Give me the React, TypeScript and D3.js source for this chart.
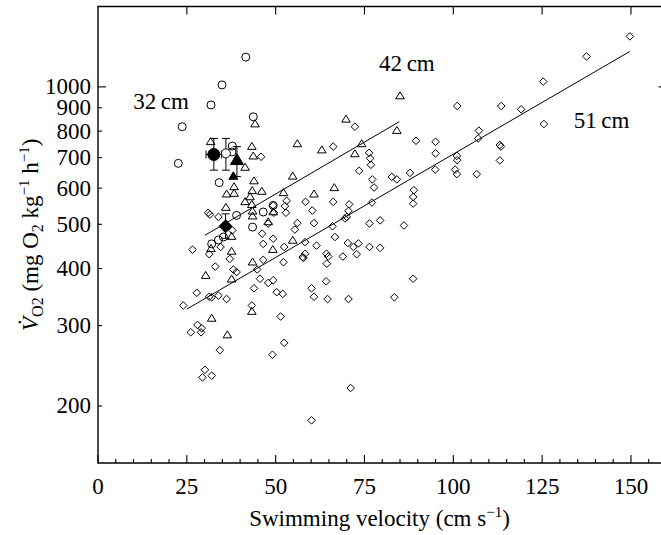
import React from 'react';
import * as d3 from 'd3';

// ---- data (velocity cm s-1, VO2 mg O2 kg-1 h-1) ----
const xTickValues = [0, 25, 50, 75, 100, 125, 150];
const yTickValues = [200, 300, 400, 500, 600, 700, 800, 900, 1000];
const groupLabels = ['32\u2009cm', '42\u2009cm', '51\u2009cm'];

const circles32: [number, number][] = [
  [41.6, 1162], [34.9, 1010], [31.8, 913], [23.7, 818], [22.6, 680], [34.1, 617],
  [43.7, 860], [37.8, 742], [37.7, 720], [39.0, 523], [32.0, 453], [33.9, 462],
  [35.3, 469], [43.5, 493], [46.5, 532], [49.3, 550],
];

const triangles42: [number, number][] = [
  [85.0, 955], [84.1, 802], [69.8, 849], [74.2, 750], [63.0, 727], [72.3, 713],
  [66.5, 601], [60.8, 582], [44.2, 829], [31.7, 758], [43.3, 740], [43.7, 705],
  [56.1, 750], [41.4, 666], [43.9, 622], [54.8, 637], [38.3, 604], [36.2, 582],
  [38.3, 584], [43.4, 592], [46.1, 590], [52.2, 586], [42.8, 574], [41.4, 560],
  [43.3, 552], [36.0, 544], [43.5, 534], [43.5, 521], [49.3, 532], [47.9, 506],
  [37.6, 470], [31.8, 442], [54.8, 461], [49.2, 440], [37.6, 436], [43.5, 413],
  [30.3, 386], [37.6, 379], [43.3, 322], [32.0, 311], [36.4, 286],
];

const diamonds51: [number, number][] = [
  [149.7, 1290], [137.5, 1166], [125.3, 1027], [101.1, 908], [113.5, 908], [119.1, 893],
  [125.5, 829], [107.2, 802], [107.0, 771], [113.1, 746], [113.4, 740], [113.1, 690],
  [101.0, 706], [101.1, 691], [100.5, 659], [101.0, 644], [106.6, 644], [95.0, 758],
  [95.0, 715], [94.9, 659], [89.5, 762], [87.8, 648], [82.7, 635], [84.1, 627],
  [88.9, 594], [88.7, 574], [88.7, 555], [86.1, 497], [79.4, 510], [76.4, 502],
  [77.1, 558], [77.7, 602], [77.2, 627], [73.5, 655], [76.8, 675], [76.6, 697],
  [76.3, 717], [66.2, 740], [72.3, 818], [70.7, 553], [70.5, 535], [70.0, 519],
  [69.5, 515], [66.2, 560], [58.4, 560], [60.3, 536], [60.8, 503], [66.0, 495],
  [66.7, 469], [58.3, 457], [61.5, 449], [70.3, 455], [71.9, 446], [73.3, 454],
  [76.4, 446], [79.4, 444], [57.6, 424], [58.3, 431], [64.3, 431], [64.8, 425],
  [68.9, 425], [72.8, 430], [64.4, 410], [64.2, 375], [60.1, 362], [60.8, 347],
  [64.6, 343], [70.5, 343], [83.4, 346], [88.7, 380], [71.1, 219], [60.1, 186],
  [45.9, 703], [31.0, 530], [31.5, 525], [33.9, 519], [37.8, 485], [46.2, 477],
  [47.9, 502], [49.5, 530], [52.6, 548], [53.1, 563], [52.9, 530], [56.1, 503],
  [55.4, 487], [46.5, 453], [49.3, 465], [52.4, 446], [57.8, 422], [26.6, 440],
  [31.3, 430], [34.5, 446], [37.1, 420], [33.0, 404], [38.1, 398], [39.0, 393],
  [44.8, 398], [46.5, 418], [52.2, 413], [45.6, 380], [49.3, 377], [47.9, 372],
  [50.3, 355], [52.0, 352], [43.9, 362], [27.8, 354], [31.3, 347], [32.0, 346],
  [33.9, 349], [36.2, 343], [24.0, 332], [43.3, 332], [51.4, 314], [28.0, 301],
  [29.2, 296], [26.1, 290], [29.0, 290], [34.3, 265], [52.4, 275], [49.1, 259],
  [30.1, 240], [29.4, 231], [32.0, 233], [49.3, 550],
];

// group means: shape, filled, velocity, VO2, velocity range, VO2 range
const meanShapes = ['circle', 'circle', 'triangle', 'triangle', 'diamond'];
const meanFilled = [true, false, true, true, true];
const meanV = [32.6, 36.0, 39.1, 38.1, 35.9];
const meanVO2 = [711, 715, 691, 637, 495];
const meanVErr: ([number, number] | null)[] = [[30.4, 34.8], null, null, null, null];
const meanVO2Err: ([number, number] | null)[] = [[657, 771], [657, 771], [636, 740], null, [466, 527]];

const fit42: [number, number][] = [[30.1, 473], [84.8, 839]];
const fit51: [number, number][] = [[25.0, 326], [149.7, 1196]];

const W = 661;
const H = 535;
const FONT = '"Liberation Serif", "Times New Roman", serif';

export default function App() {
  const x = d3.scaleLinear().domain([0, 160]).range([98, 666.5]);
  const y = d3.scaleLog().domain([150, 1500]).range([463, 6.5]);
  const x0 = x(0), x1 = x(160), y0 = y(150), y1 = y(1500);

  const line = d3.line<[number, number]>().x(d => x(d[0])).y(d => y(d[1]));

  const diamondPath = (cx: number, cy: number, r: number) =>
    `M${cx},${cy - r}L${cx + r},${cy}L${cx},${cy + r}L${cx - r},${cy}Z`;
  const trianglePath = (cx: number, cy: number, w: number, h: number) =>
    `M${cx},${cy - h * 0.6}L${cx + w},${cy + h * 0.4}L${cx - w},${cy + h * 0.4}Z`;

  const minorX = d3.range(5, 160, 5).filter(v => v % 25 !== 0);

  return (
    <div style={{ position: 'absolute', left: 0, top: 0 }}>
      <svg width={W} height={H} style={{ display: 'block', background: '#fff' }} fontFamily={FONT}>
        {/* frame */}
        <g stroke="#000" strokeWidth={1.4} fill="none">
          <line x1={x0} y1={y0} x2={x1} y2={y0} />
          <line x1={x0} y1={y1} x2={x1} y2={y1} />
          <line x1={x0} y1={y0 + 0.7} x2={x0} y2={y1 - 0.7} />
          <line x1={x1} y1={y0} x2={x1} y2={y1} />
        </g>
        {/* bottom ticks */}
        <g stroke="#000" strokeWidth={1.1}>
          {xTickValues.map(v => (
            <line key={'bx' + v} x1={x(v)} x2={x(v)} y1={y0} y2={y0 - 8} />
          ))}
          {minorX.map(v => (
            <line key={'bm' + v} x1={x(v)} x2={x(v)} y1={y0} y2={y0 - 4} />
          ))}
          {xTickValues.filter(v => v > 0).map(v => (
            <line key={'tx' + v} x1={x(v)} x2={x(v)} y1={y1} y2={y1 + 8} />
          ))}
          {yTickValues.map(v => (
            <line key={'ly' + v} x1={x0} x2={x0 + (v === 1000 ? 8 : 4)} y1={y(v)} y2={y(v)} />
          ))}
          {yTickValues.map(v => (
            <line key={'ry' + v} x1={x1} x2={x1 - (v === 1000 ? 8 : 4)} y1={y(v)} y2={y(v)} />
          ))}
        </g>
        {/* tick labels */}
        <g fontSize={23} fill="#000">
          {xTickValues.map(v => (
            <text key={'xl' + v} x={x(v)} y={494} textAnchor="middle">{v}</text>
          ))}
          {yTickValues.map(v => (
            <text key={'yl' + v} x={91} y={y(v) + 7.5} textAnchor="end">{v}</text>
          ))}
        </g>
        {/* axis titles */}
        <text x={(x0 + 661) / 2} y={526} textAnchor="middle" fontSize={23}>
          Swimming velocity (cm s
          <tspan fontSize={15} dy={-9}>−1</tspan>
          <tspan dy={9}>)</tspan>
        </text>
        <text transform={`translate(38,${(y0 + y1) / 2}) rotate(-90)`} textAnchor="middle" fontSize={23}>
          <tspan fontStyle="italic">V̇</tspan>
          <tspan fontSize={16} dy={5}>O2</tspan>
          <tspan dy={-5}> (mg O</tspan>
          <tspan fontSize={16} dy={5}>2</tspan>
          <tspan dy={-5}> kg</tspan>
          <tspan fontSize={15} dy={-9}>−1</tspan>
          <tspan dy={9}> h</tspan>
          <tspan fontSize={15} dy={-9}>−1</tspan>
          <tspan dy={9}>)</tspan>
        </text>
        {/* fitted lines */}
        <g stroke="#000" strokeWidth={1} fill="none">
          <path d={line(fit42) || ''} />
          <path d={line(fit51) || ''} />
        </g>
        {/* open points */}
        <g stroke="#000" strokeWidth={1} fill="none">
          {diamonds51.map((d, i) => (
            <path key={'d' + i} d={diamondPath(x(d[0]), y(d[1]), 3.8)} />
          ))}
          {triangles42.map((d, i) => (
            <path key={'t' + i} d={trianglePath(x(d[0]), y(d[1]), 4.3, 7)} />
          ))}
          {circles32.map((d, i) => (
            <circle key={'c' + i} cx={x(d[0])} cy={y(d[1])} r={4} />
          ))}
        </g>
        {/* means with error bars */}
        <g stroke="#000" strokeWidth={1}>
          {meanV.map((v, i) => {
            const cx = x(v), cy = y(meanVO2[i]);
            const ye = meanVO2Err[i];
            const xe = meanVErr[i];
            const fill = meanFilled[i] ? '#000' : '#fff';
            const shape = meanShapes[i];
            const big = i !== 3;
            return (
              <g key={'m' + i}>
                {ye && (
                  <g fill="none">
                    <line x1={cx} x2={cx} y1={y(ye[0])} y2={y(ye[1])} />
                    <line x1={cx - 4} x2={cx + 4} y1={y(ye[0])} y2={y(ye[0])} />
                    <line x1={cx - 4} x2={cx + 4} y1={y(ye[1])} y2={y(ye[1])} />
                  </g>
                )}
                {xe && (
                  <g fill="none">
                    <line x1={x(xe[0])} x2={x(xe[1])} y1={cy} y2={cy} />
                    <line x1={x(xe[0])} x2={x(xe[0])} y1={cy - 4} y2={cy + 4} />
                    <line x1={x(xe[1])} x2={x(xe[1])} y1={cy - 4} y2={cy + 4} />
                  </g>
                )}
                {shape === 'circle' && <circle cx={cx} cy={cy} r={meanFilled[i] ? 6 : 4.5} fill={fill} />}
                {shape === 'triangle' && (
                  <path d={big ? trianglePath(cx, cy, 6.5, 11) : trianglePath(cx, cy, 4.5, 7.5)} fill={fill} />
                )}
                {shape === 'diamond' && <path d={diamondPath(cx, cy, 6.5)} fill={fill} />}
              </g>
            );
          })}
        </g>
        {/* group labels */}
        <g fontSize={23} fill="#000">
          <text x={x(9.9)} y={y(895)}>{groupLabels[0]}</text>
          <text x={x(79.1)} y={y(1084)}>{groupLabels[1]}</text>
          <text x={x(133.9)} y={y(813)}>{groupLabels[2]}</text>
        </g>
      </svg>
    </div>
  );
}
